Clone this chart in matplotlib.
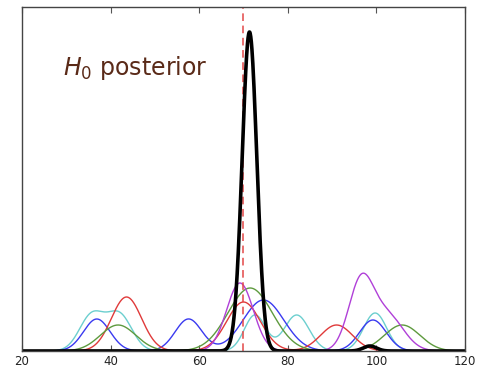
import numpy as np
import matplotlib
matplotlib.use("Agg")
import matplotlib.pyplot as plt

plt.rcParams['mathtext.fontset'] = 'dejavusans'

# posterior curves: centre, width, height
cyan_mu = [35.8, 42.0, 72.6, 82.0, 99.7]
cyan_sd = [2.8, 2.8, 2.4, 2.8, 2.6]
cyan_h = [36, 36, 36, 36, 38]

blue_mu = [36.9, 57.6, 74.5, 99.2]
blue_sd = [3.0, 3.0, 4.6, 3.0]
blue_h = [32, 32, 51, 31]

red_mu = [43.6, 70.0, 91.0]
red_sd = [3.4, 3.8, 3.6]
red_h = [54, 49, 26]

green_mu = [41.7, 71.5, 105.8]
green_sd = [4.0, 5.0, 4.0]
green_h = [26, 63, 26]

magenta_mu = [69.2, 96.5, 102.5]
magenta_sd = [3.0, 2.8, 3.6]
magenta_h = [68, 68, 35]

black_mu = [71.35, 98.5]
black_sd = [1.65, 1.5]
black_h = [319, 5]

h0_true = 70.0

curves = [
    (cyan_mu, cyan_sd, cyan_h, '#6ccfcf'),
    (blue_mu, blue_sd, blue_h, '#3a3af0'),
    (red_mu, red_sd, red_h, '#e03a3a'),
    (green_mu, green_sd, green_h, '#5e9a3e'),
    (magenta_mu, magenta_sd, magenta_h, '#b040d8'),
]


def mix(x, mu, sd, h):
    y = np.zeros_like(x)
    for m, s, a in zip(mu, sd, h):
        y += a * np.exp(-0.5 * ((x - m) / s) ** 2)
    return y


x = np.linspace(20, 120, 1500)

fig = plt.figure(figsize=(4.87, 3.67), dpi=100)
ax = fig.add_axes([0.045, 0.0436, 0.91, 0.9374])

for mu, sd, h, col in curves:
    ax.plot(x, mix(x, mu, sd, h), color=col, lw=1.0)

ax.axvline(h0_true, color='#e34848', lw=1.1, ls=(0, (5, 3)))
ax.plot(x, mix(x, black_mu, black_sd, black_h), color='black', lw=2.6)

ax.text(0.092, 0.802, r'$\mathit{H}_0$ posterior', transform=ax.transAxes,
        fontsize=17, color='#5a2a18')

ax.set_xlim(20, 120)
ax.set_ylim(0, 344)
ax.set_xticks([20, 40, 60, 80, 100, 120])
ax.set_yticks([])
ax.tick_params(axis='x', direction='in', length=4, top=True, labelsize=8.5,
               color='#555555', labelcolor='#222222', pad=3)
for s in ax.spines.values():
    s.set_color('#444444')
    s.set_linewidth(1.0)

fig.savefig('out.png', dpi=100)
